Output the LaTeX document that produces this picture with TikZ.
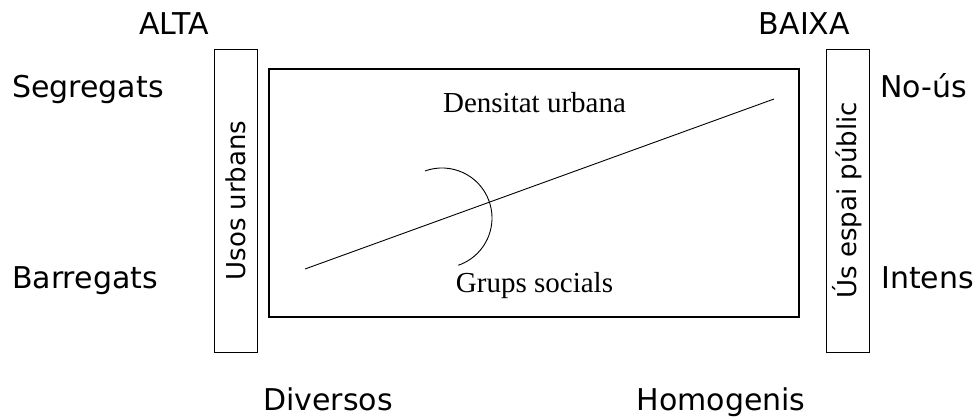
\documentclass[tikz,border=0pt]{standalone}
\usepackage{fontspec}
\setmainfont{Liberation Serif}
\newfontfamily\labelfont{DejaVu Sans}

\begin{document}
\begin{tikzpicture}[x=1pt, y=-1pt, every node/.style={inner sep=0pt},
    axislabel/.style={font=\labelfont\fontsize{30}{36}\selectfont},
    barbox/.style={draw, line width=0.9pt, rotate=90, minimum width=303pt,
        minimum height=43pt, font=\labelfont\fontsize{26}{31}\selectfont},
    inlabel/.style={font=\fontsize{29}{35}\selectfont}]

    \useasboundingbox (0,0) rectangle (978,420);

    % Central box
    \node[draw, line width=2.2pt, minimum width=530pt, minimum height=248pt] (densitat) at (534,193) {};
    \node[inlabel, anchor=base] (densitatlabel) at (534.5,113) {Densitat urbana};
    \node[inlabel, anchor=base] (grups) at (534.5,292) {Grups socials};

    % Side bars
    \node[barbox] (usos) at (235.5,200.5) {Usos urbans};
    \node[barbox] (espai) at (847.5,200.5) {Ús espai públic};

    % Diagonal
    \coordinate (lo) at (305,269);
    \coordinate (hi) at (774,99);
    \draw[line width=0.9pt] (lo) -- (hi);

    % Arc
    \coordinate (arcstart) at (424.9,171);
    \draw[line width=0.9pt] (arcstart) arc[start angle=-110, end angle=71, radius=50];

    % Top
    \node[axislabel, anchor=base] (alta) at (174,35) {ALTA};
    \node[axislabel, anchor=base] (baixa) at (804.5,35) {BAIXA};

    % Left
    \node[axislabel, anchor=base west] (segregats) at (12,97) {Segregats};
    \node[axislabel, anchor=base west] (barregats) at (12,288) {Barregats};

    % Right
    \node[axislabel, anchor=base west] (nous) at (880,97) {No-ús};
    \node[axislabel, anchor=base west] (intens) at (881,288) {Intens};

    % Bottom
    \node[axislabel, anchor=base] (diversos) at (328,410) {Diversos};
    \node[axislabel, anchor=base] (homogenis) at (721,410) {Homogenis};

\end{tikzpicture}
\end{document}
